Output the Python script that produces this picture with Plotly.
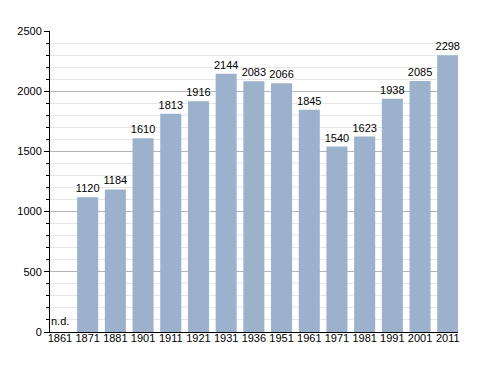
import plotly.graph_objects as go

years = ["1861", "1871", "1881", "1901", "1911", "1921", "1931", "1936", "1951",
         "1961", "1971", "1981", "1991", "2001", "2011"]
population = [0, 1120, 1184, 1610, 1813, 1916, 2144, 2083, 2066, 1845, 1540, 1623, 1938, 2085, 2298]
labels = [""] + [str(v) for v in population[1:]]
missing_label = "n.d."

fig = go.Figure(go.Bar(
    x=years, y=population, text=labels, textposition="outside",
    constraintext="none",
    textfont=dict(size=11, color="black", family="Liberation Sans, Arial"),
    marker=dict(color="#9bb1cc", line=dict(width=0)),
    cliponaxis=False,
))
fig.add_annotation(xref="x", yref="y", x=0, y=0, text=missing_label, showarrow=False,
                   xanchor="center", yanchor="bottom", yshift=3,
                   font=dict(size=11, color="black"))
fig.update_layout(
    width=480, height=365,
    margin=dict(l=42, r=30, t=23, b=41),
    paper_bgcolor="white", plot_bgcolor="white",
    bargap=0.24, showlegend=False,
    font=dict(family="Liberation Sans, Arial", size=11, color="black"),
    xaxis=dict(type="category", range=[-0.36, 14.37], showline=True, linecolor="black",
               linewidth=1, ticks="", tickfont=dict(size=11), automargin=False,
               ticklabelstandoff=-4),
    yaxis=dict(range=[0, 2500], dtick=500, showline=True, linecolor="black", linewidth=1,
               ticks="outside", ticklen=5, tickcolor="black", tickwidth=1,
               gridcolor="#b4b4b4", gridwidth=1, zeroline=False, automargin=False,
               minor=dict(dtick=100, showgrid=True, gridcolor="#e6e6e6", ticks="outside",
                          ticklen=3, tickcolor="black"),
               tickfont=dict(size=11)),
)
fig.write_html("out.html")
